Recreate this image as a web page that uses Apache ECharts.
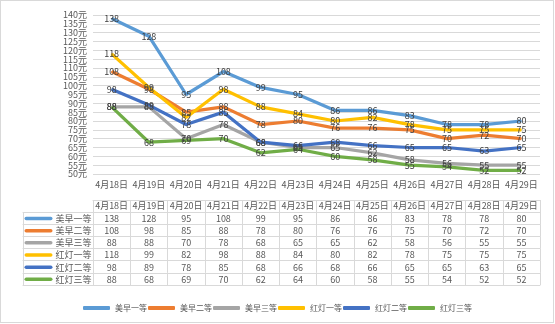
<!DOCTYPE html>
<html><head><meta charset="utf-8">
<script src="https://cdn.jsdelivr.net/npm/echarts@6/dist/echarts.min.js"></script>
<style>
html,body{margin:0;padding:0;background:#fff}
#wrap{position:relative;width:555px;height:324px}
#c{position:absolute;left:0;top:0;width:555px;height:324px}
#frame{position:absolute;left:0;top:0;width:554px;height:323px;border:1px solid #d9d9d9;box-sizing:border-box;pointer-events:none}
</style></head><body>
<div id="wrap"><div id="c"></div><div id="frame"></div></div>
<script>
// ---- data ----
const categories = ['4月18日','4月19日','4月20日','4月21日','4月22日','4月23日','4月24日','4月25日','4月26日','4月27日','4月28日','4月29日'];
const seriesNames = ['美早一等','美早二等','美早三等','红灯一等','红灯二等','红灯三等'];
const meizao1 = [138,128,95,108,99,95,86,86,83,78,78,80];
const meizao2 = [108,98,85,88,78,80,76,76,75,70,72,70];
const meizao3 = [88,88,70,78,68,65,65,62,58,56,55,55];
const hongdeng1 = [118,99,82,98,88,84,80,82,78,75,75,75];
const hongdeng2 = [98,89,78,85,68,66,68,66,65,65,63,65];
const hongdeng3 = [88,68,69,70,62,64,60,58,55,54,52,52];
const yMin = 50, yMax = 140, yStep = 5, yUnit = '元';

const seriesValues = [meizao1, meizao2, meizao3, hongdeng1, hongdeng2, hongdeng3];
const colors = ['#5B9BD5','#ED7D31','#A5A5A5','#FFC000','#4472C4','#70AD47'];

// ---- style ----
const FONT = "'Microsoft YaHei','Noto Sans CJK SC',sans-serif";
const TXT = '#595959';
const GRIDC = '#d9d9d9';
const headerOffset = 26, rowStart = 38, rowH = 12.17;

const xAxes = [];
// main category axis under plot
xAxes.push({
  type:'category', gridIndex:0, data:categories, position:'bottom',
  axisLine:{show:false,onZero:false}, axisTick:{show:false},
  axisLabel:{interval:0, margin:6, fontSize:9, color:TXT, fontFamily:FONT}
});
// table header
xAxes.push({
  type:'category', gridIndex:0, data:categories, position:'bottom', offset:headerOffset,
  axisLine:{show:true,onZero:false,lineStyle:{color:GRIDC,width:1}},
  axisTick:{show:true,interval:0,length:rowStart-headerOffset,lineStyle:{color:GRIDC}},
  axisLabel:{interval:0, margin:1, fontSize:9, color:TXT, fontFamily:FONT}
});
// table rows (values)
seriesValues.forEach((vals,i)=>{
  xAxes.push({
    type:'category', gridIndex:0, data:vals.map(String), position:'bottom', offset:rowStart+i*rowH,
    axisLine:{show:true,onZero:false,lineStyle:{color:GRIDC,width:1}},
    axisTick:{show:true,interval:0,length:rowH,lineStyle:{color:GRIDC}},
    axisLabel:{interval:0, margin:2, fontSize:9, color:TXT, fontFamily:FONT}
  });
});
// bottom border of table
xAxes.push({
  type:'category', gridIndex:0, data:categories, position:'bottom', offset:rowStart+seriesValues.length*rowH,
  axisLine:{show:true,onZero:false,lineStyle:{color:GRIDC,width:1}},
  axisTick:{show:false}, axisLabel:{show:false}
});
// left column (legend keys + names)
const rich = {n:{fontSize:9,color:TXT,fontFamily:FONT,padding:[0,0,0,3]}};
colors.forEach((c,i)=>{ rich['k'+i] = {width:28,height:3.5,backgroundColor:c,borderRadius:1.75}; });
seriesNames.forEach((nm,i)=>{
  xAxes.push({
    type:'category', gridIndex:1, data:[nm], position:'bottom', offset:rowStart+i*rowH,
    axisLine:{show:true,onZero:false,lineStyle:{color:GRIDC,width:1}},
    axisTick:{show:true,interval:0,length:rowH,lineStyle:{color:GRIDC}},
    axisLabel:{interval:0, margin:2, fontSize:9, color:TXT, fontFamily:FONT,
      formatter:(v)=>'{k'+i+'|}{n|'+v+'}', rich:rich}
  });
});
xAxes.push({
  type:'category', gridIndex:1, data:[''], position:'bottom', offset:rowStart+seriesNames.length*rowH,
  axisLine:{show:true,onZero:false,lineStyle:{color:GRIDC,width:1}},
  axisTick:{show:false}, axisLabel:{show:false}
});

const series = seriesNames.map((nm,i)=>({
  name:nm, type:'line', xAxisIndex:0, yAxisIndex:0, data:seriesValues[i],
  symbol:'circle', symbolSize:1, showSymbol:true,
  itemStyle:{color:colors[i]},
  lineStyle:{width:3.25,color:colors[i]},
  label:{show:true, position:'inside', fontSize:9, color:'#404040', fontFamily:FONT},
  emphasis:{disabled:true}
}));

const option = {
  animation:false,
  color:colors,
  textStyle:{fontFamily:FONT},
  grid:[
    {left:93, right:15, top:15, bottom:150, containLabel:false},
    {left:23, width:70, top:15, bottom:150, containLabel:false}
  ],
  legend:{
    data:seriesNames, top:299, left:'center',
    icon:'roundRect', itemWidth:27, itemHeight:4, itemGap:1,
    textStyle:{fontSize:8,color:TXT,fontFamily:FONT}
  },
  xAxis:xAxes,
  yAxis:[
    {type:'value', gridIndex:0, min:yMin, max:yMax, interval:yStep,
     axisLine:{show:false}, axisTick:{show:false},
     splitLine:{show:true,lineStyle:{color:GRIDC,width:1}},
     axisLabel:{formatter:'{value}'+yUnit, fontSize:9, color:TXT, margin:6, fontFamily:FONT}},
    {type:'value', gridIndex:1, show:false, min:yMin, max:yMax}
  ],
  series:series
};
const chart = echarts.init(document.getElementById('c'), null, {renderer:'canvas'});
chart.setOption(option);
</script>
</body></html>
